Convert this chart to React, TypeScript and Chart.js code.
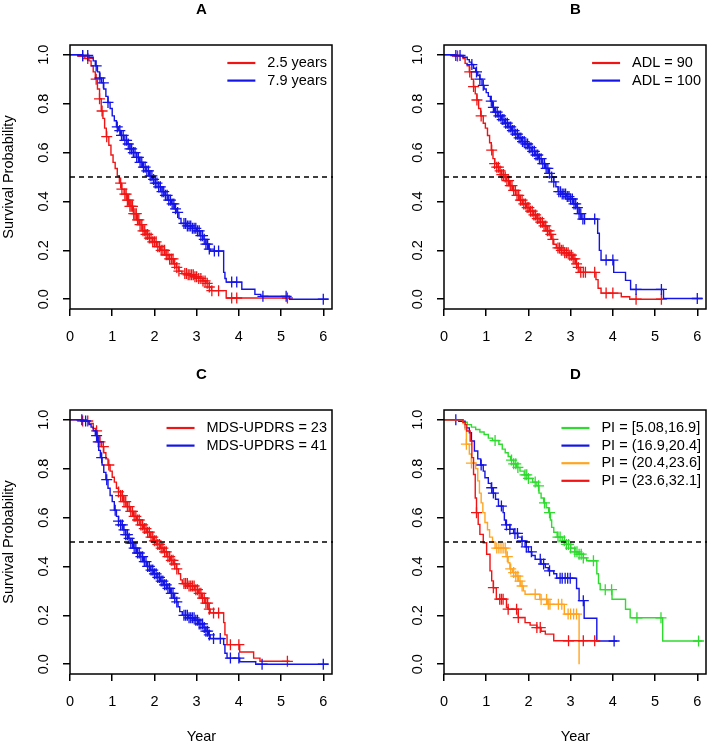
import React, { useEffect, useRef } from "react";
import { Chart, registerables } from "chart.js";
Chart.register(...registerables);

// ---------- shared axes ----------
const xTickValues = [0, 1, 2, 3, 4, 5, 6];
const xTickLabels = ["0", "1", "2", "3", "4", "5", "6"];
const yTickValues = [0, 0.2, 0.4, 0.6, 0.8, 1.0];
const yTickLabels = ["0.0", "0.2", "0.4", "0.6", "0.8", "1.0"];
const X_MIN = 0;
const X_MAX = 6.23;
const Y_MIN = -0.04;
const Y_MAX = 1.04;
const MEDIAN_LEVEL = 0.5;
const Y_TITLE = "Survival Probability";
const X_TITLE = "Year";

const RED = "#F01414";
const BLUE = "#1414E6";
const GREEN = "#2EDB2E";
const ORANGE = "#FFA522";

// ---------- Panel A ----------
const aTitle = "A";
const aLabels = ["2.5 years", "7.9 years"];
const aRedTimes = [0, 0.2, 0.35, 0.45, 0.5, 0.55, 0.6, 0.65, 0.7, 0.74, 0.78, 0.82, 0.86, 0.92, 0.97, 1.02, 1.07, 1.12, 1.17, 1.22, 1.28, 1.35, 1.42, 1.5, 1.58, 1.65, 1.72, 1.8, 1.88, 1.96, 2.05, 2.15, 2.25, 2.35, 2.45, 2.52, 2.58, 2.65, 2.8, 2.95, 3.05, 3.15, 3.22, 3.3, 3.35, 3.7, 5.18];
const aRedSurv = [1, 0.995, 0.985, 0.975, 0.955, 0.93, 0.9, 0.86, 0.82, 0.77, 0.74, 0.7, 0.665, 0.63, 0.59, 0.56, 0.535, 0.505, 0.475, 0.45, 0.43, 0.405, 0.38, 0.35, 0.325, 0.305, 0.28, 0.265, 0.25, 0.235, 0.215, 0.2, 0.182, 0.165, 0.145, 0.13, 0.115, 0.105, 0.1, 0.092, 0.085, 0.075, 0.065, 0.05, 0.035, 0.005, 0.005];
const aRedCensor = [0.3, 0.42, 0.62, 0.7, 0.76, 0.87, 1.2, 1.23, 1.3, 1.33, 1.36, 1.39, 1.42, 1.45, 1.48, 1.51, 1.54, 1.57, 1.6, 1.63, 1.66, 1.7, 1.73, 1.77, 1.8, 1.84, 1.88, 1.92, 1.96, 2.0, 2.04, 2.08, 2.12, 2.16, 2.2, 2.24, 2.28, 2.32, 2.36, 2.4, 2.44, 2.48, 2.53, 2.58, 2.72, 2.76, 2.8, 2.84, 2.88, 2.92, 2.96, 3.0, 3.05, 3.1, 3.15, 3.2, 3.25, 3.3, 3.36, 3.52, 3.83, 3.95, 5.15];
const aBlueTimes = [0, 0.3, 0.45, 0.55, 0.6, 0.65, 0.7, 0.75, 0.8, 0.85, 0.9, 0.95, 1.0, 1.05, 1.1, 1.15, 1.2, 1.27, 1.35, 1.42, 1.5, 1.58, 1.65, 1.72, 1.8, 1.88, 1.95, 2.02, 2.1, 2.18, 2.25, 2.32, 2.4, 2.47, 2.53, 2.58, 2.63, 2.75, 2.9, 3.0, 3.08, 3.15, 3.22, 3.28, 3.32, 3.64, 3.67, 3.7, 4.07, 4.38, 4.52, 5.2, 6.12];
const aBlueSurv = [1, 0.997, 0.99, 0.975, 0.955, 0.93, 0.905, 0.885, 0.86, 0.83, 0.805, 0.78, 0.75, 0.73, 0.705, 0.69, 0.67, 0.65, 0.635, 0.615, 0.6, 0.58, 0.56, 0.54, 0.525, 0.505, 0.49, 0.475, 0.46, 0.44, 0.425, 0.405, 0.39, 0.37, 0.355, 0.33, 0.31, 0.3, 0.29, 0.28, 0.26, 0.245, 0.225, 0.205, 0.197, 0.11, 0.085, 0.07, 0.041, 0.02, 0.012, 0.0, 0.0];
const aBlueCensor = [0.3, 0.42, 0.62, 0.71, 0.79, 0.9, 1.12, 1.18, 1.22, 1.26, 1.3, 1.34, 1.38, 1.42, 1.46, 1.5, 1.54, 1.58, 1.62, 1.66, 1.7, 1.74, 1.78, 1.82, 1.86, 1.9, 1.94, 1.98, 2.02, 2.06, 2.1, 2.14, 2.18, 2.22, 2.26, 2.3, 2.34, 2.38, 2.42, 2.46, 2.5, 2.55, 2.7, 2.74, 2.78, 2.82, 2.86, 2.9, 2.94, 2.98, 3.02, 3.06, 3.1, 3.14, 3.18, 3.22, 3.26, 3.3, 3.42, 3.52, 3.83, 3.95, 4.57, 5.12, 6.0];

// ---------- Panel B ----------
const bTitle = "B";
const bLabels = ["ADL = 90", "ADL = 100"];
const bRedTimes = [0, 0.3, 0.45, 0.5, 0.55, 0.6, 0.65, 0.7, 0.74, 0.78, 0.82, 0.87, 0.93, 0.98, 1.03, 1.08, 1.12, 1.16, 1.2, 1.25, 1.3, 1.36, 1.42, 1.48, 1.55, 1.62, 1.7, 1.78, 1.86, 1.95, 2.03, 2.12, 2.2, 2.28, 2.36, 2.44, 2.5, 2.55, 2.6, 2.66, 2.75, 2.85, 2.95, 3.05, 3.12, 3.18, 3.22, 3.6, 3.65, 3.72, 4.2, 4.4, 5.18];
const bRedSurv = [1, 0.995, 0.985, 0.965, 0.955, 0.93, 0.9, 0.87, 0.84, 0.815, 0.78, 0.75, 0.72, 0.7, 0.67, 0.64, 0.61, 0.575, 0.555, 0.54, 0.525, 0.51, 0.5, 0.485, 0.465, 0.445, 0.425, 0.405, 0.39, 0.375, 0.36, 0.345, 0.33, 0.315, 0.3, 0.28, 0.265, 0.245, 0.225, 0.21, 0.2, 0.19, 0.18, 0.165, 0.145, 0.13, 0.11, 0.08, 0.045, 0.025, 0.01, 0.0, 0.0];
const bRedCensor = [0.32, 0.61, 0.7, 0.78, 0.88, 1.13, 1.2, 1.25, 1.29, 1.33, 1.37, 1.41, 1.45, 1.49, 1.53, 1.57, 1.61, 1.65, 1.69, 1.73, 1.77, 1.81, 1.85, 1.89, 1.93, 1.97, 2.01, 2.05, 2.09, 2.13, 2.17, 2.21, 2.25, 2.29, 2.33, 2.37, 2.41, 2.45, 2.49, 2.53, 2.58, 2.7, 2.74, 2.78, 2.82, 2.86, 2.9, 2.94, 2.98, 3.02, 3.06, 3.1, 3.14, 3.18, 3.24, 3.3, 3.35, 3.57, 3.84, 4.0, 4.55, 5.15];
const bBlueTimes = [0, 0.25, 0.45, 0.55, 0.6, 0.65, 0.7, 0.75, 0.8, 0.85, 0.9, 0.95, 1.0, 1.05, 1.1, 1.15, 1.2, 1.28, 1.36, 1.44, 1.52, 1.6, 1.68, 1.76, 1.84, 1.92, 2.0, 2.08, 2.16, 2.24, 2.32, 2.4, 2.48, 2.55, 2.6, 2.65, 2.7, 2.8, 2.9, 3.0, 3.07, 3.13, 3.2, 3.25, 3.64, 3.68, 3.72, 4.02, 4.3, 4.42, 5.2, 6.12];
const bBlueSurv = [1, 0.997, 0.99, 0.98, 0.97, 0.96, 0.945, 0.93, 0.915, 0.9, 0.875, 0.86, 0.845, 0.83, 0.81, 0.785, 0.765, 0.75, 0.735, 0.72, 0.705, 0.69, 0.675, 0.66, 0.645, 0.635, 0.62, 0.605, 0.59, 0.575, 0.555, 0.535, 0.515, 0.5, 0.48, 0.46, 0.44, 0.43, 0.42, 0.41, 0.39, 0.375, 0.35, 0.328, 0.27, 0.2, 0.16, 0.11, 0.077, 0.04, 0.003, 0.003];
const bBlueCensor = [0.28, 0.38, 0.66, 0.77, 0.85, 0.93, 1.12, 1.17, 1.22, 1.26, 1.3, 1.34, 1.38, 1.42, 1.46, 1.5, 1.54, 1.58, 1.62, 1.66, 1.7, 1.74, 1.78, 1.82, 1.86, 1.9, 1.94, 1.98, 2.02, 2.06, 2.1, 2.14, 2.18, 2.22, 2.26, 2.3, 2.34, 2.38, 2.42, 2.46, 2.5, 2.55, 2.6, 2.72, 2.76, 2.8, 2.84, 2.88, 2.92, 2.96, 3.0, 3.04, 3.08, 3.12, 3.16, 3.2, 3.24, 3.29, 3.33, 3.57, 3.84, 4.0, 4.55, 5.15, 6.0];

// ---------- Panel C ----------
const cTitle = "C";
const cLabels = ["MDS-UPDRS = 23", "MDS-UPDRS = 41"];
const cRedTimes = [0, 0.3, 0.45, 0.55, 0.6, 0.65, 0.7, 0.75, 0.8, 0.85, 0.9, 0.95, 1.0, 1.05, 1.1, 1.15, 1.2, 1.27, 1.35, 1.42, 1.5, 1.58, 1.66, 1.74, 1.82, 1.9, 1.98, 2.06, 2.14, 2.22, 2.3, 2.38, 2.45, 2.52, 2.57, 2.62, 2.66, 2.8, 2.95, 3.05, 3.12, 3.2, 3.27, 3.32, 3.64, 3.67, 3.72, 4.02, 4.35, 4.5, 5.2];
const cRedSurv = [1, 0.995, 0.985, 0.965, 0.955, 0.935, 0.91, 0.89, 0.865, 0.84, 0.815, 0.79, 0.765, 0.745, 0.72, 0.705, 0.69, 0.665, 0.645, 0.625, 0.605, 0.59, 0.57, 0.555, 0.54, 0.52, 0.505, 0.49, 0.475, 0.46, 0.44, 0.425, 0.41, 0.39, 0.37, 0.345, 0.33, 0.32, 0.305, 0.29, 0.27, 0.25, 0.225, 0.21, 0.17, 0.12, 0.08, 0.05, 0.025, 0.012, 0.012];
const cRedCensor = [0.3, 0.42, 0.63, 0.71, 0.79, 0.92, 1.15, 1.2, 1.24, 1.28, 1.32, 1.36, 1.4, 1.44, 1.48, 1.52, 1.56, 1.6, 1.64, 1.68, 1.72, 1.76, 1.8, 1.84, 1.88, 1.92, 1.96, 2.0, 2.04, 2.08, 2.12, 2.16, 2.2, 2.24, 2.28, 2.32, 2.36, 2.4, 2.44, 2.48, 2.53, 2.7, 2.74, 2.78, 2.82, 2.86, 2.9, 2.94, 2.98, 3.02, 3.06, 3.1, 3.14, 3.18, 3.22, 3.26, 3.3, 3.4, 3.52, 3.8, 4.0, 5.15];
const cBlueTimes = [0, 0.3, 0.45, 0.5, 0.55, 0.6, 0.65, 0.68, 0.72, 0.76, 0.8, 0.85, 0.9, 0.95, 1.0, 1.05, 1.1, 1.15, 1.2, 1.26, 1.32, 1.38, 1.44, 1.5, 1.58, 1.66, 1.74, 1.82, 1.9, 1.98, 2.06, 2.14, 2.22, 2.3, 2.38, 2.45, 2.52, 2.56, 2.6, 2.66, 2.8, 2.95, 3.05, 3.15, 3.22, 3.28, 3.32, 3.64, 3.67, 3.72, 4.02, 4.4, 6.12];
const cBlueSurv = [1, 0.995, 0.98, 0.97, 0.955, 0.935, 0.91, 0.875, 0.845, 0.815, 0.785, 0.755, 0.72, 0.69, 0.665, 0.63, 0.605, 0.585, 0.57, 0.55, 0.53, 0.515, 0.495, 0.475, 0.455, 0.44, 0.42, 0.4, 0.385, 0.37, 0.355, 0.34, 0.325, 0.31, 0.29, 0.27, 0.255, 0.235, 0.215, 0.2, 0.19, 0.18, 0.165, 0.15, 0.135, 0.12, 0.105, 0.08, 0.045, 0.025, 0.01, 0.0, 0.0];
const cBlueCensor = [0.28, 0.37, 0.63, 0.67, 0.75, 0.87, 1.07, 1.15, 1.2, 1.24, 1.28, 1.32, 1.36, 1.4, 1.44, 1.48, 1.52, 1.56, 1.6, 1.64, 1.68, 1.72, 1.76, 1.8, 1.84, 1.88, 1.92, 1.96, 2.0, 2.04, 2.08, 2.12, 2.16, 2.2, 2.24, 2.28, 2.32, 2.36, 2.4, 2.44, 2.48, 2.53, 2.7, 2.74, 2.78, 2.82, 2.86, 2.9, 2.94, 2.98, 3.02, 3.06, 3.1, 3.14, 3.18, 3.22, 3.26, 3.3, 3.4, 3.56, 3.8, 4.0, 4.55, 6.0];

// ---------- Panel D ----------
const dTitle = "D";
const dLabels = ["PI = [5.08,16.9]", "PI = (16.9,20.4]", "PI = (20.4,23.6]", "PI = (23.6,32.1]"];
const dGreenTimes = [0, 0.45, 0.55, 0.65, 0.75, 0.85, 0.95, 1.05, 1.15, 1.3, 1.38, 1.45, 1.52, 1.58, 1.65, 1.72, 1.8, 1.9, 2.0, 2.1, 2.2, 2.25, 2.3, 2.36, 2.42, 2.48, 2.52, 2.55, 2.6, 2.68, 2.8, 2.9, 3.0, 3.1, 3.2, 3.3, 3.38, 3.62, 3.66, 3.7, 3.98, 4.3, 4.41, 5.18, 6.12];
const dGreenSurv = [1, 0.99, 0.98, 0.97, 0.96, 0.95, 0.94, 0.925, 0.915, 0.9, 0.88, 0.865, 0.85, 0.835, 0.82, 0.805, 0.79, 0.775, 0.76, 0.745, 0.73, 0.7, 0.68, 0.66, 0.64, 0.62, 0.59, 0.56, 0.54, 0.52, 0.505, 0.49, 0.475, 0.46, 0.45, 0.435, 0.423, 0.37, 0.33, 0.305, 0.266, 0.225, 0.19, 0.095, 0.095];
const dGreenCensor = [1.21, 1.6, 1.65, 1.7, 1.75, 1.92, 1.96, 2.0, 2.16, 2.24, 2.38, 2.5, 2.7, 2.75, 2.85, 2.9, 2.95, 3.0, 3.1, 3.15, 3.2, 3.25, 3.3, 3.54, 3.82, 3.97, 4.57, 5.14, 6.03];
const dBlueTimes = [0, 0.35, 0.5, 0.6, 0.65, 0.72, 0.8, 0.87, 0.93, 0.97, 1.05, 1.12, 1.16, 1.22, 1.29, 1.4, 1.43, 1.46, 1.56, 1.65, 1.75, 1.84, 1.92, 2.0, 2.08, 2.16, 2.3, 2.4, 2.47, 2.6, 2.67, 3.14, 3.2, 3.32, 3.62, 4.1];
const dBlueSurv = [1, 0.994, 0.967, 0.947, 0.913, 0.872, 0.84, 0.815, 0.79, 0.763, 0.74, 0.722, 0.7, 0.675, 0.647, 0.62, 0.59, 0.57, 0.552, 0.535, 0.52, 0.504, 0.48, 0.46, 0.445, 0.429, 0.41, 0.395, 0.382, 0.37, 0.352, 0.31, 0.26, 0.188, 0.095, 0.095];
const dBlueCensor = [0.28, 0.88, 1.13, 1.17, 1.36, 1.48, 1.56, 1.68, 1.74, 1.85, 1.95, 2.07, 2.28, 2.36, 2.5, 2.75, 2.8, 2.87, 2.93, 2.99, 3.3, 4.03];
const dOrangeTimes = [0, 0.45, 0.5, 0.53, 0.6, 0.65, 0.75, 0.8, 0.84, 0.88, 0.92, 0.97, 1.03, 1.08, 1.15, 1.21, 1.47, 1.52, 1.56, 1.62, 1.7, 1.76, 1.82, 1.88, 1.92, 2.27, 2.45, 2.85, 3.2];
const dOrangeSurv = [1, 0.985, 0.96, 0.9, 0.86, 0.823, 0.8, 0.75, 0.7, 0.66, 0.62, 0.58, 0.55, 0.52, 0.5, 0.475, 0.44, 0.415, 0.39, 0.375, 0.36, 0.34, 0.32, 0.3, 0.286, 0.265, 0.245, 0.205, 0.0];
const dOrangeCensor = [0.53, 0.65, 1.25, 1.3, 1.35, 1.4, 1.45, 1.5, 1.58, 1.65, 1.7, 1.75, 1.8, 1.85, 2.16, 2.3, 2.43, 2.47, 2.51, 2.71, 2.79, 2.94, 3.0, 3.07, 3.14];
const dRedTimes = [0, 0.45, 0.5, 0.54, 0.62, 0.66, 0.7, 0.74, 0.77, 0.81, 0.85, 0.93, 1.01, 1.09, 1.13, 1.17, 1.24, 1.48, 1.52, 1.76, 1.92, 2.04, 2.2, 2.3, 2.4, 2.6, 3.62];
const dRedSurv = [1, 0.99, 0.98, 0.954, 0.913, 0.845, 0.776, 0.68, 0.62, 0.572, 0.531, 0.497, 0.45, 0.382, 0.341, 0.313, 0.266, 0.232, 0.225, 0.191, 0.17, 0.16, 0.15, 0.135, 0.123, 0.096, 0.096];
const dRedCensor = [0.77, 1.17, 1.32, 1.36, 1.4, 1.52, 1.72, 1.76, 2.2, 2.28, 2.95, 3.3, 3.57];

type Curve = { times: number[]; surv: number[]; censor: number[]; color: string };

function survAt(times: number[], surv: number[], t: number): number {
  let v = surv[0];
  for (let i = 0; i < times.length; i++) {
    if (times[i] <= t) v = surv[i];
  }
  return v;
}

const FONT = "'Liberation Sans', Arial, sans-serif";

type PanelProps = {
  title: string;
  curves: Curve[];
  labels: string[];
  showYTitle: boolean;
  showXTitle: boolean;
  width: number;
  height: number;
  box: { l: number; t: number; r: number; b: number };
  left: number;
  top: number;
};

function Panel(props: PanelProps) {
  const ref = useRef<HTMLCanvasElement | null>(null);
  useEffect(() => {
    const canvas = ref.current;
    if (!canvas) return;
    const { box, width, height, curves, labels, title, showYTitle, showXTitle } = props;

    const ordered: any[] = [];
    curves.forEach((c) => {
      ordered.push({
        data: c.times.map((t, i) => ({ x: t, y: c.surv[i] })),
        stepped: "before",
        borderColor: c.color,
        borderWidth: 1.4,
        pointRadius: 0,
        fill: false,
        tension: 0,
      });
      ordered.push({
        data: c.censor.map((t) => ({ x: t, y: survAt(c.times, c.surv, t) })),
        showLine: false,
        pointStyle: "cross",
        pointRadius: 5.5,
        pointHoverRadius: 5.5,
        pointBorderColor: c.color,
        borderColor: c.color,
        pointBorderWidth: 1.3,
        borderWidth: 1.3,
      });
    });
    ordered.push({
      data: [
        { x: X_MIN, y: MEDIAN_LEVEL },
        { x: X_MAX, y: MEDIAN_LEVEL },
      ],
      borderColor: "#000",
      borderWidth: 1.5,
      borderDash: [5, 4],
      pointRadius: 0,
      fill: false,
    });
    // Chart.js draws dataset 0 last (on top): reverse R drawing order
    const datasets = ordered.reverse();

    const panelPlugin = {
      id: "panelDecor",
      afterDraw(chart: any) {
        const ctx = chart.ctx;
        const a = chart.chartArea;
        const ys = chart.scales.y;
        const xs = chart.scales.x;
        ctx.save();
        ctx.strokeStyle = "#000";
        ctx.lineWidth = 1.5;
        ctx.strokeRect(Math.round(a.left), Math.round(a.top), Math.round(a.right - a.left) - 1, Math.round(a.bottom - a.top));
        ctx.fillStyle = "#000";
        // title
        ctx.font = `bold 15px ${FONT}`;
        ctx.textAlign = "center";
        ctx.textBaseline = "middle";
        ctx.fillText(title, (a.left + a.right) / 2, a.top - 35);
        // x tick labels
        ctx.font = `14.5px ${FONT}`;
        xTickValues.forEach((v, i) => {
          ctx.fillText(xTickLabels[i], xs.getPixelForValue(v), a.bottom + 28);
        });
        // y tick labels (rotated)
        yTickValues.forEach((v, i) => {
          ctx.save();
          ctx.translate(a.left - 26.5, ys.getPixelForValue(v));
          ctx.rotate(-Math.PI / 2);
          ctx.fillText(yTickLabels[i], 0, 0);
          ctx.restore();
        });
        if (showYTitle) {
          ctx.save();
          ctx.translate(a.left - 61, (a.top + a.bottom) / 2);
          ctx.rotate(-Math.PI / 2);
          ctx.fillText(Y_TITLE, 0, 0);
          ctx.restore();
        }
        if (showXTitle) {
          ctx.fillText(X_TITLE, (a.left + a.right) / 2, a.bottom + 63);
        }
        // legend (top right, no box)
        ctx.font = `14.5px ${FONT}`;
        let maxW = 0;
        labels.forEach((s) => {
          maxW = Math.max(maxW, ctx.measureText(s).width);
        });
        const textX = a.right - 6 - maxW;
        ctx.textAlign = "left";
        labels.forEach((s, i) => {
          const yy = a.top + 18 + i * 17.6;
          ctx.strokeStyle = curves[i].color;
          ctx.lineWidth = 2.2;
          ctx.beginPath();
          ctx.moveTo(textX - 40, yy);
          ctx.lineTo(textX - 12, yy);
          ctx.stroke();
          ctx.fillStyle = "#000";
          ctx.fillText(s, textX, yy);
        });
        ctx.restore();
      },
    };

    const gridOpts = {
      display: true,
      drawOnChartArea: false,
      drawTicks: true,
      tickLength: 7,
      color: "#000",
      lineWidth: 1.5,
    };

    const chart = new Chart(canvas, {
      type: "line",
      data: { datasets },
      options: {
        animation: false,
        responsive: false,
        devicePixelRatio: 1,
        events: [],
        layout: {
          autoPadding: false,
          padding: { left: 0, top: box.t, right: width - box.r, bottom: 0 },
        },
        plugins: { legend: { display: false }, tooltip: { enabled: false } },
        scales: {
          x: {
            type: "linear",
            min: X_MIN,
            max: X_MAX,
            afterBuildTicks: (s: any) => {
              s.ticks = xTickValues.map((v) => ({ value: v }));
            },
            afterFit: (s: any) => {
              s.height = height - box.b;
            },
            ticks: { display: false },
            grid: gridOpts,
            border: { display: false },
          },
          y: {
            type: "linear",
            min: Y_MIN,
            max: Y_MAX,
            afterBuildTicks: (s: any) => {
              s.ticks = yTickValues.map((v) => ({ value: v }));
            },
            afterFit: (s: any) => {
              s.width = box.l;
            },
            ticks: { display: false },
            grid: gridOpts,
            border: { display: false },
          },
        },
      } as any,
      plugins: [panelPlugin],
    });
    return () => chart.destroy();
  }, []);

  return (
    <canvas
      ref={ref}
      width={props.width}
      height={props.height}
      style={{ position: "absolute", left: props.left, top: props.top, width: props.width, height: props.height }}
    />
  );
}

export default function App() {
  const curvesA: Curve[] = [
    { times: aRedTimes, surv: aRedSurv, censor: aRedCensor, color: RED },
    { times: aBlueTimes, surv: aBlueSurv, censor: aBlueCensor, color: BLUE },
  ];
  const curvesB: Curve[] = [
    { times: bRedTimes, surv: bRedSurv, censor: bRedCensor, color: RED },
    { times: bBlueTimes, surv: bBlueSurv, censor: bBlueCensor, color: BLUE },
  ];
  const curvesC: Curve[] = [
    { times: cRedTimes, surv: cRedSurv, censor: cRedCensor, color: RED },
    { times: cBlueTimes, surv: cBlueSurv, censor: cBlueCensor, color: BLUE },
  ];
  const curvesD: Curve[] = [
    { times: dGreenTimes, surv: dGreenSurv, censor: dGreenCensor, color: GREEN },
    { times: dBlueTimes, surv: dBlueSurv, censor: dBlueCensor, color: BLUE },
    { times: dOrangeTimes, surv: dOrangeSurv, censor: dOrangeCensor, color: ORANGE },
    { times: dRedTimes, surv: dRedSurv, censor: dRedCensor, color: RED },
  ];
  return (
    <div style={{ position: "absolute", left: 0, top: 0, width: 709, height: 747, background: "#fff", overflow: "hidden" }}>
      <Panel title={aTitle} curves={curvesA} labels={aLabels} showYTitle={true} showXTitle={false}
        left={0} top={0} width={354} height={360} box={{ l: 70, t: 45, r: 333, b: 309 }} />
      <Panel title={bTitle} curves={curvesB} labels={bLabels} showYTitle={false} showXTitle={false}
        left={354} top={0} width={355} height={360} box={{ l: 90, t: 45, r: 353, b: 309 }} />
      <Panel title={cTitle} curves={curvesC} labels={cLabels} showYTitle={true} showXTitle={true}
        left={0} top={360} width={354} height={387} box={{ l: 70, t: 50, r: 333, b: 314 }} />
      <Panel title={dTitle} curves={curvesD} labels={dLabels} showYTitle={false} showXTitle={true}
        left={354} top={360} width={355} height={387} box={{ l: 90, t: 50, r: 353, b: 314 }} />
    </div>
  );
}
